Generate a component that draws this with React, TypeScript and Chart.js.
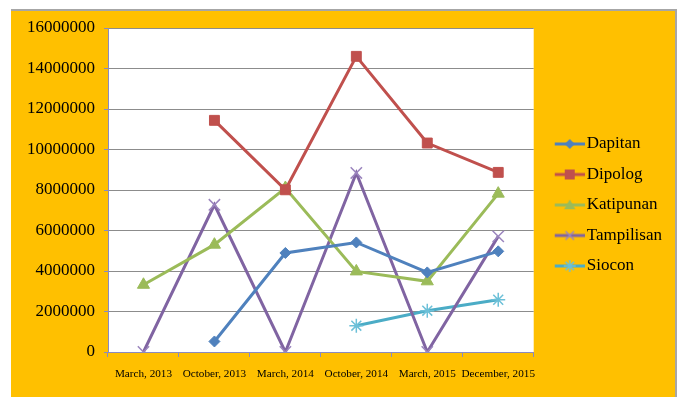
import React, { useEffect, useRef } from "react";
import { Chart, registerables } from "chart.js";

Chart.register(...registerables);

const categories = ["March, 2013", "October, 2013", "March, 2014", "October, 2014", "March, 2015", "December, 2015"];
const dapitan = [null, 520000, 4890000, 5410000, 3930000, 4970000];
const dipolog = [null, 11440000, 8010000, 14600000, 10320000, 8870000];
const katipunan = [3320000, 5300000, 8100000, 3980000, 3490000, 7820000];
const tampilisan = [0, 7270000, 0, 8840000, 0, 5710000];
const siocon = [null, null, null, 1300000, 2040000, 2580000];
const seriesNames = ["Dapitan", "Dipolog", "Katipunan", "Tampilisan", "Siocon"];
const seriesColors = ["#4F81BD", "#C0504D", "#9BBB59", "#8064A2", "#4BACC6"];
const markerColors = ["#4F81BD", "#C0504D", "#9BBB59", "#9B85BE", "#6CC0D8"];
const pointStyles = ["rectRot", "rect", "triangle", "crossRot", "star"];
const pointRadii = [5.5, 7, 7, 8, 7];
const yMin = 0;
const yMax = 16000000;
const yStep = 2000000;

const FONT = "'Liberation Serif', 'Times New Roman', serif";
const AXIS = "#8a8ac0";

// legend marker image: 44 wide, line drawn over the right 30 px
function makeLegendImage(i: number): HTMLCanvasElement {
  const c = document.createElement("canvas");
  c.width = 44;
  c.height = 14;
  const ctx = c.getContext("2d")!;
  const col = seriesColors[i];
  const mc = markerColors[i];
  const x0 = 14;
  const cx = x0 + 15, cy = 7;
  ctx.strokeStyle = col;
  ctx.lineWidth = 3;
  ctx.beginPath();
  ctx.moveTo(x0, cy);
  ctx.lineTo(x0 + 30, cy);
  ctx.stroke();
  ctx.fillStyle = mc;
  ctx.strokeStyle = mc;
  ctx.lineWidth = 1.5;
  const st = pointStyles[i];
  ctx.beginPath();
  if (st === "rectRot") {
    const r = 5;
    ctx.moveTo(cx, cy - r);
    ctx.lineTo(cx + r, cy);
    ctx.lineTo(cx, cy + r);
    ctx.lineTo(cx - r, cy);
    ctx.closePath();
    ctx.fill();
  } else if (st === "rect") {
    ctx.rect(cx - 5, cy - 5, 10, 10);
    ctx.fill();
  } else if (st === "triangle") {
    const r = 6.5;
    for (let k = 0; k < 3; k++) {
      const a = (k * 2 * Math.PI) / 3;
      const x = cx + Math.sin(a) * r;
      const y = cy + 1 - Math.cos(a) * r;
      if (k === 0) ctx.moveTo(x, y);
      else ctx.lineTo(x, y);
    }
    ctx.closePath();
    ctx.fill();
  } else {
    const r = 6;
    const n = st === "star" ? 4 : 2;
    for (let k = 0; k < n; k++) {
      const a = st === "star" ? (k * Math.PI) / 4 : Math.PI / 4 + (k * Math.PI) / 2;
      ctx.moveTo(cx - Math.cos(a) * r, cy - Math.sin(a) * r);
      ctx.lineTo(cx + Math.cos(a) * r, cy + Math.sin(a) * r);
    }
    ctx.stroke();
  }
  return c;
}

export default function App() {
  const ref = useRef<HTMLCanvasElement | null>(null);

  useEffect(() => {
    if (!ref.current) return;
    const allData = [dapitan, dipolog, katipunan, tampilisan, siocon];
    const legendImages = seriesNames.map((_, i) => makeLegendImage(i));

    const plotBg = {
      id: "plotBg",
      beforeDraw(chart: any) {
        const { ctx, chartArea } = chart;
        ctx.save();
        ctx.fillStyle = "#ffffff";
        ctx.fillRect(chartArea.left, chartArea.top, chartArea.right - chartArea.left, chartArea.bottom - chartArea.top);
        ctx.restore();
      },
    };

    const chart = new Chart(ref.current, {
      type: "line",
      data: {
        labels: categories,
        datasets: seriesNames.map((name, i) => ({
          label: name,
          data: allData[i],
          borderColor: seriesColors[i],
          backgroundColor: seriesColors[i],
          borderWidth: 3,
          pointStyle: pointStyles[i] as any,
          pointRadius: pointRadii[i],
          pointBackgroundColor: markerColors[i],
          pointBorderColor: markerColors[i],
          pointBorderWidth: i >= 3 ? 1.5 : 1,
          tension: 0,
          spanGaps: false,
          fill: false,
        })),
      },
      options: {
        animation: false,
        responsive: false,
        events: [],
        layout: { padding: { top: 28, bottom: 15, left: 0, right: 9 } },
        plugins: {
          tooltip: { enabled: false },
          legend: {
            position: "right",
            align: "center",
            labels: {
              usePointStyle: true,
              pointStyleWidth: 31,
              padding: 13.5,
              color: "#000",
              font: { family: FONT, size: 17 },
              generateLabels: (ch: any) => {
                const items = (Chart.defaults.plugins.legend.labels as any).generateLabels(ch);
                items.forEach((it: any, idx: number) => {
                  it.pointStyle = legendImages[idx];
                });
                return items;
              },
            },
          },
        },
        scales: {
          x: {
            type: "category",
            offset: true,
            grid: { display: true, drawOnChartArea: false, offset: true, tickLength: 5, color: AXIS },
            border: { color: AXIS, width: 1 },
            ticks: { padding: 10, color: "#000", maxRotation: 0, autoSkip: false, font: { family: FONT, size: 11.2 } },
            afterFit: (s: any) => {
              s.height = 30;
            },
          },
          y: {
            type: "linear",
            min: yMin,
            max: yMax,
            ticks: {
              stepSize: yStep,
              padding: 9,
              color: "#000",
              font: { family: FONT, size: 17 },
              callback: (v: any) => String(v),
            },
            grid: { color: "#8c8c8c", tickColor: AXIS, tickLength: 4, lineWidth: 1 },
            border: { color: AXIS, width: 1 },
            afterFit: (s: any) => {
              s.width = 108;
            },
          },
        },
      },
      plugins: [plotBg],
    });
    return () => chart.destroy();
  }, []);

  return (
    <div style={{ position: "absolute", left: 0, top: 0, width: 681, height: 397, background: "#fff" }}>
      <div
        style={{
          position: "absolute",
          left: 11,
          top: 9,
          width: 666,
          height: 388,
          background: "#FFC000",
          borderTop: "2px solid #a6a6a6",
          borderRight: "2px solid #a6a6a6",
          boxSizing: "border-box",
        }}
      />
      <canvas ref={ref} width={681} height={397} style={{ position: "absolute", left: 0, top: 0 }} />
    </div>
  );
}
